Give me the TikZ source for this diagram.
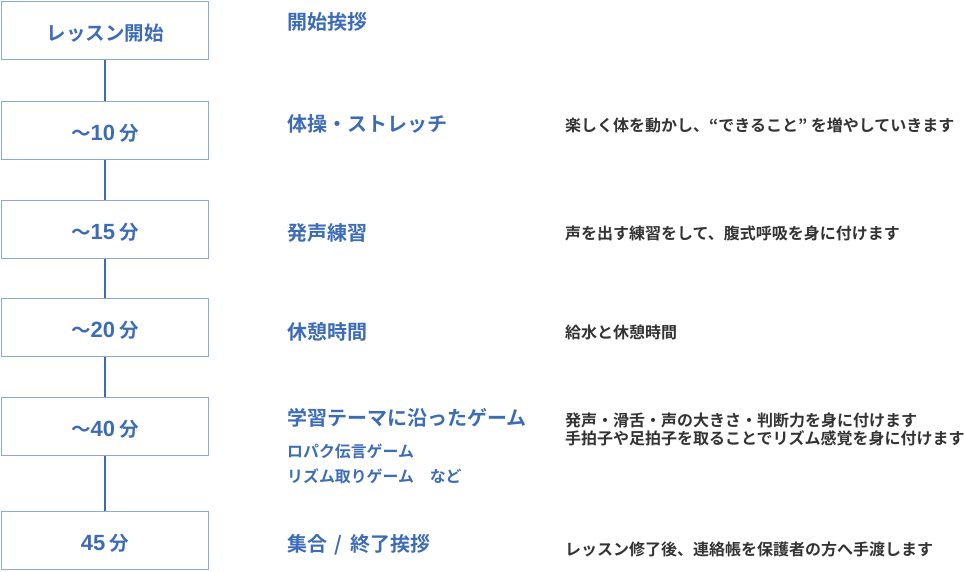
\documentclass[tikz,border=0pt]{standalone}
\usepackage{fontspec}
\setmainfont{Noto Sans CJK JP}[BoldFont={* Bold}]
\newfontfamily\latn{Liberation Sans}
\definecolor{boxline}{HTML}{8AAAD9}
\definecolor{conn}{HTML}{3A6DB8}
\definecolor{bluetext}{HTML}{3C6CB5}
\definecolor{graytext}{HTML}{333333}
\tikzset{
  stage/.style={draw=boxline, line width=1.6pt, minimum width=207pt, minimum height=58pt, inner sep=0pt, text height=23pt, text depth=2.5pt, text=bluetext, font=\fontsize{19.5}{22}\selectfont\bfseries},
  head/.style={anchor=west, inner sep=0pt, text=bluetext, font=\fontsize{20}{24}\selectfont\bfseries},
  sub/.style={anchor=west, inner sep=0pt, text=bluetext, font=\fontsize{15.9}{18}\selectfont\bfseries},
  note/.style={anchor=west, inner sep=0pt, text=graytext, font=\fontsize{16}{18.5}\selectfont\bfseries, align=left},
  conline/.style={draw=conn, line width=2pt}
}
\newcommand{\dg}[1]{{\latn\bfseries\fontsize{22}{24}\selectfont #1}}
\begin{document}
\begin{tikzpicture}[x=1pt,y=-1pt]
\useasboundingbox (0,0) rectangle (964,572);
\node[stage] (b1) at (105,30.5) {レッスン開始};
\node[stage] (b2) at (105,130.5) {～\dg{10} 分};
\node[stage] (b3) at (105,229.5) {～\dg{15} 分};
\node[stage] (b4) at (105,327.5) {～\dg{20} 分};
\node[stage] (b5) at (105,426.5) {～\dg{40} 分};
\node[stage] (b6) at (105,540.5) {\dg{45} 分};
\draw[conline] (b1) -- (b2);
\draw[conline] (b2) -- (b3);
\draw[conline] (b3) -- (b4);
\draw[conline] (b4) -- (b5);
\draw[conline] (b5) -- (b6);
\node[head] (h1) at (287,22) {開始挨拶};
\node[head] (h2) at (287,123.5) {体操・ストレッチ};
\node[head] (h3) at (287,232.5) {発声練習};
\node[head] (h4) at (287,331.5) {休憩時間};
\node[head] (h5) at (287,417.5) {学習テーマに沿ったゲーム};
\node[sub] (s5a) at (287,451) {ロパク伝言ゲーム};
\node[sub] (s5b) at (287,476) {リズム取りゲーム\quad など};
\node[head] (h6) at (287,545) {集合\hspace{3pt} / \hspace{3pt}終了挨拶};
\node[note] (n2) at (565,125) {楽しく体を動かし、“できること” を増やしていきます};
\node[note] (n3) at (565,233) {声を出す練習をして、腹式呼吸を身に付けます};
\node[note] (n4) at (565,332) {給水と休憩時間};
\node[note] (n5) at (565,429.5) {発声・滑舌・声の大きさ・判断力を身に付けます\\手拍子や足拍子を取ることでリズム感覚を身に付けます};
\node[note] (n6) at (565,549.5) {レッスン修了後、連絡帳を保護者の方へ手渡します};
\end{tikzpicture}
\end{document}
